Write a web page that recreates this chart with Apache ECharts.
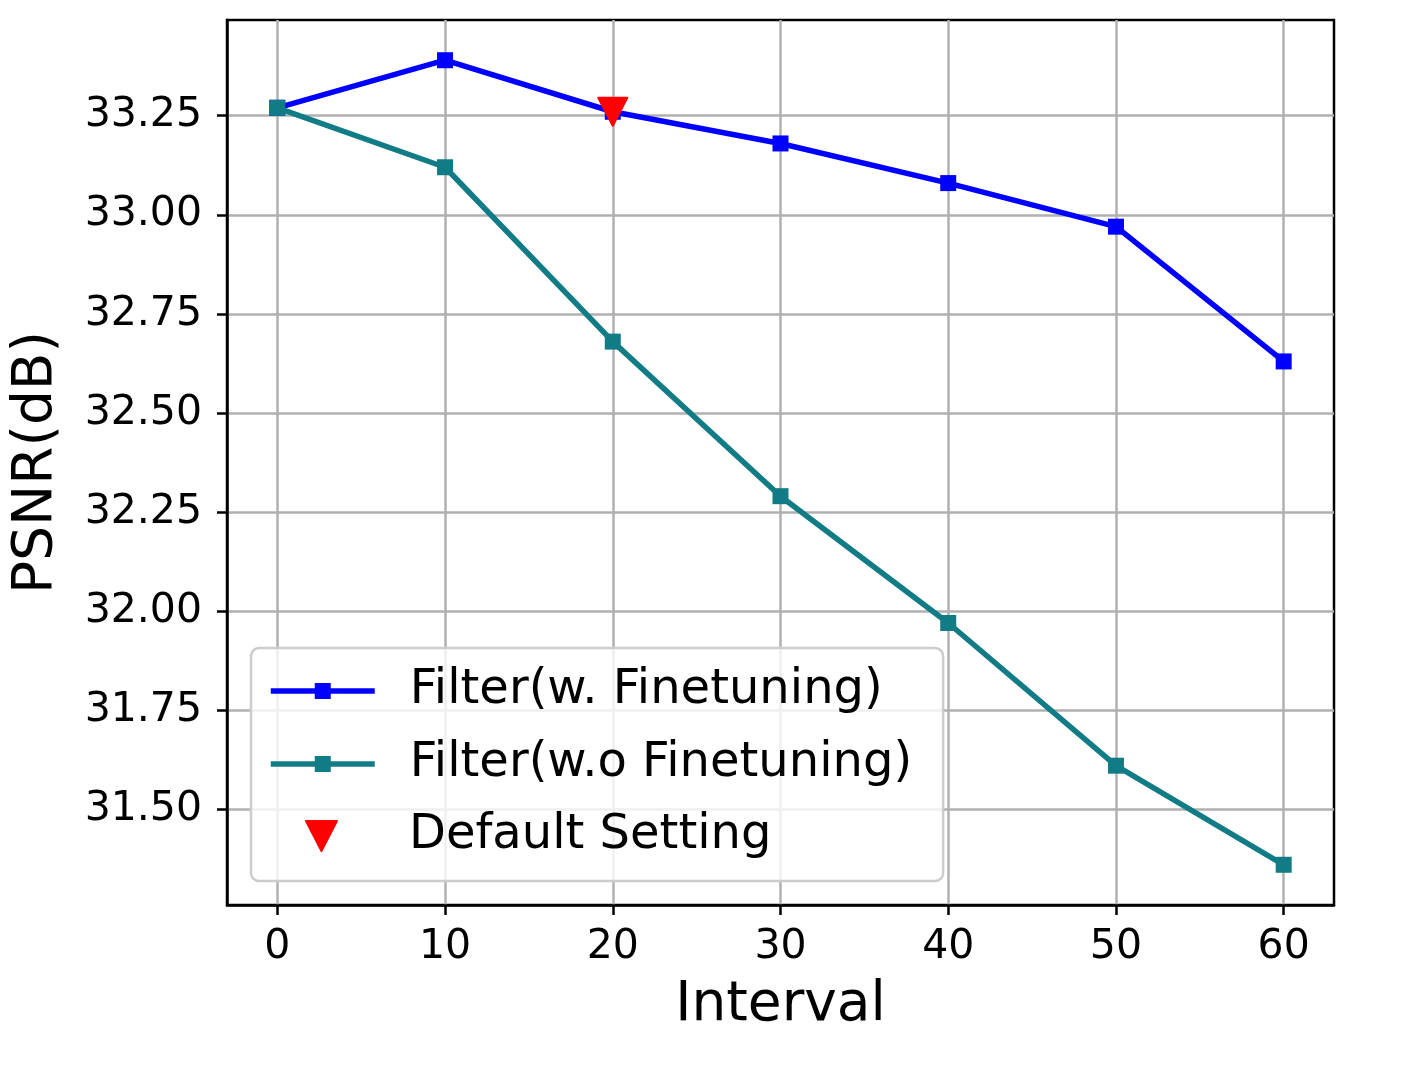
<!DOCTYPE html>
<html><head><meta charset="utf-8">
<script src="https://cdn.jsdelivr.net/npm/echarts@6/dist/echarts.min.js"></script>
<style>html,body{margin:0;padding:0;background:#fff}#c{width:1419px;height:1065px}</style>
</head><body><div id="c"></div>
<script>
const intervals = [0, 10, 20, 30, 40, 50, 60];
const psnrWithFt = [33.27, 33.39, 33.26, 33.18, 33.08, 32.97, 32.63];
const psnrWithoutFt = [33.27, 33.12, 32.68, 32.29, 31.97, 31.61, 31.36];
const defaultInterval = [20];
const defaultPsnr = [33.26];
const xTicks = [0, 10, 20, 30, 40, 50, 60];
const yTicks = [31.50, 31.75, 32.00, 32.25, 32.50, 32.75, 33.00, 33.25];
const seriesNames = ['Filter(w. Finetuning)', 'Filter(w.o Finetuning)', 'Default Setting'];
const axisNames = ['Interval', 'PSNR(dB)'];

const FONT = 'DejaVu Sans';
const downTri = 'path://M0,0 L20,0 L10,19.4 Z';

const chart = echarts.init(document.getElementById('c'), null, {renderer: 'canvas'});
const zip = (xs, ys) => xs.map((x, i) => [x, ys[i]]);

const legendText = {fontFamily: FONT, fontSize: 48, color: '#000', lineHeight: 56, padding: [0, 0, 0, 30]};

chart.setOption({
  backgroundColor: '#fff',
  animation: false,
  grid: {left: 227, top: 20, width: 1107, height: 885, show: true, borderColor: '#000', borderWidth: 2.5, backgroundColor: 'transparent', outerBoundsMode: 'none'},
  xAxis: {
    type: 'value', min: -3, max: 63,
    name: axisNames[0], nameLocation: 'middle', nameGap: 73,
    nameTextStyle: {fontFamily: FONT, fontSize: 55, color: '#000', lineHeight: 55},
    axisLine: {show: true, onZero: false, lineStyle: {color: '#000', width: 2.5}},
    axisTick: {show: true, inside: false, length: 10, lineStyle: {color: '#000', width: 2.5}, customValues: xTicks},
    axisLabel: {fontFamily: FONT, fontSize: 41, color: '#000', margin: 22, lineHeight: 41, customValues: xTicks, formatter: v => String(v)},
    splitLine: {show: true, lineStyle: {color: '#b0b0b0', width: 2.5}}
  },
  yAxis: {
    type: 'value', min: 31.2585, max: 33.4915,
    name: axisNames[1], nameLocation: 'middle', nameGap: 163,
    nameTextStyle: {fontFamily: FONT, fontSize: 55, color: '#000', lineHeight: 55},
    axisLine: {show: true, onZero: false, lineStyle: {color: '#000', width: 2.5}},
    axisTick: {show: true, inside: false, length: 10, lineStyle: {color: '#000', width: 2.5}, customValues: yTicks},
    axisLabel: {fontFamily: FONT, fontSize: 41, color: '#000', margin: 25, lineHeight: 41, customValues: yTicks, formatter: v => v.toFixed(2)},
    splitLine: {show: true, lineStyle: {color: '#b0b0b0', width: 2.5}}
  },
  legend: [
    {
      data: [seriesNames[0], seriesNames[1]],
      orient: 'vertical', left: 251, top: 648,
      padding: [15, 31, 89, 17], itemGap: 17,
      itemWidth: 104, itemHeight: 20,
      lineStyle: {width: 5.5},
      backgroundColor: 'rgba(255,255,255,0.8)', borderColor: '#cccccc', borderWidth: 2.5, borderRadius: 8,
      selectedMode: false, textStyle: legendText, z: 4
    },
    {
      data: [{name: seriesNames[2], icon: downTri}],
      orient: 'vertical', left: 251, top: 808,
      padding: [0, 0, 0, 54], itemWidth: 31, itemHeight: 30,
      itemStyle: {opacity: 1},
      selectedMode: false,
      textStyle: {fontFamily: FONT, fontSize: 48, color: '#000', lineHeight: 56, padding: [0, 0, 0, 67]}, z: 5
    }
  ],
  series: [
    {
      name: seriesNames[0], type: 'line', data: zip(intervals, psnrWithFt),
      color: '#0000ff', symbol: 'rect', symbolSize: 16, showAllSymbol: true,
      lineStyle: {width: 5.5, color: '#0000ff'}, itemStyle: {color: '#0000ff'}, z: 2
    },
    {
      name: seriesNames[1], type: 'line', data: zip(intervals, psnrWithoutFt),
      color: '#127c86', symbol: 'rect', symbolSize: 16, showAllSymbol: true,
      lineStyle: {width: 5.5, color: '#127c86'}, itemStyle: {color: '#127c86'}, z: 3
    },
    {
      name: seriesNames[2], type: 'scatter', data: zip(defaultInterval, defaultPsnr),
      color: '#ff0000', symbol: downTri, symbolSize: [29, 28],
      itemStyle: {color: '#ff0000', opacity: 1, borderColor: '#ff0000', borderWidth: 2, borderJoin: 'round'}, z: 4
    }
  ]
});
</script>
</body></html>
